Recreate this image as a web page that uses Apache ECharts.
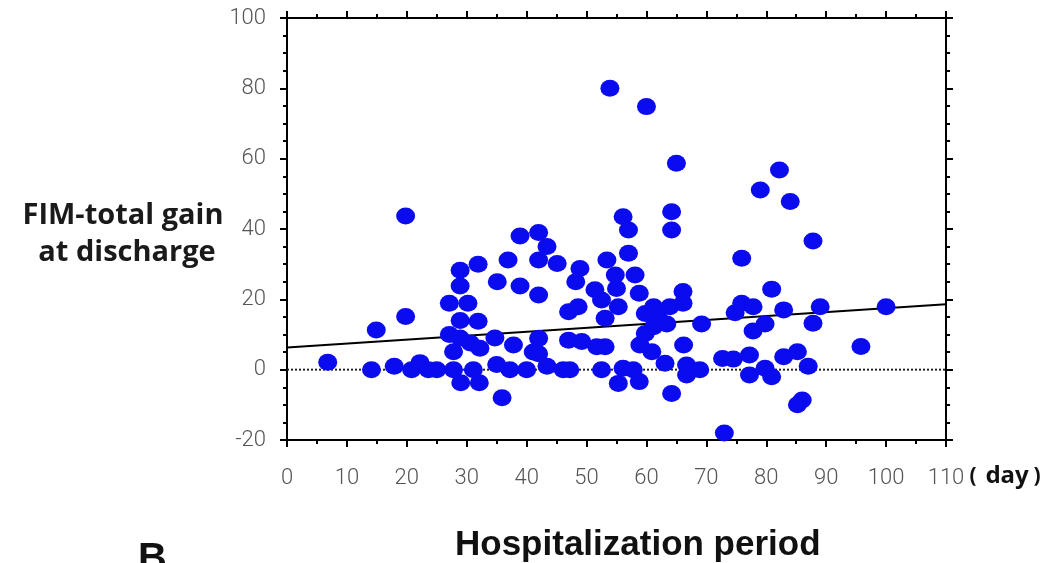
<!DOCTYPE html>
<html>
<head>
<meta charset="utf-8">
<script src="https://cdn.jsdelivr.net/npm/echarts@6/dist/echarts.min.js"></script>
<style>
html,body{margin:0;padding:0;background:#fff;}
#chart{width:1048px;height:563px;}
</style>
</head>
<body>
<div id="chart"></div>
<script>
// Hospitalization period (day) of each patient
const days = [
  6.8, 14.1, 14.9, 17.9, 20.8, 19.8, 19.8, 22.2, 23.6, 25.0,
  27.1, 27.1, 27.8, 27.8, 28.9, 28.9, 28.9, 28.9, 29.0, 30.2,
  30.6, 31.1, 31.9, 31.9, 32.1, 32.2, 34.7, 35.0, 35.1, 35.9,
  36.9, 37.2, 37.8, 38.9, 38.9, 40.0, 41.1, 42.0, 42.0, 42.0,
  42.0, 42.0, 43.4, 43.4, 45.1, 46.1, 47.0, 47.0, 47.2, 48.2,
  48.6, 48.9, 49.2, 51.4, 51.7, 52.5, 52.5, 53.1, 53.1, 53.4,
  53.9, 54.8, 55.0, 55.3, 55.3, 56.1, 56.1, 57.0, 57.0, 57.8,
  58.1, 58.8, 58.8, 58.9, 59.8, 59.8, 60.0, 60.9, 61.2, 61.2,
  62.0, 63.1, 63.4, 63.9, 64.2, 64.2, 64.2, 65.0, 66.1, 66.1,
  66.2, 66.7, 66.7, 68.9, 69.2, 72.7, 73.0, 74.5, 74.8, 75.9,
  75.9, 77.2, 77.2, 77.8, 77.8, 79.0, 79.8, 79.8, 80.9, 80.9,
  82.2, 82.9, 82.9, 84.0, 85.2, 85.2, 86.0, 87.0, 87.8, 87.8,
  89.0, 95.8, 100.0
];
// FIM-total gain at discharge of each patient
const gains = [
  2.1, 0.0, 11.3, 1.0, 0.0, 43.7, 15.1, 2.0, 0.0, 0.0,
  18.9, 10.0, 5.1, 0.0, 28.3, 23.8, 14.0, 9.0, -3.7, 18.9,
  7.6, 0.0, 30.0, 13.8, -3.7, 6.1, 9.0, 1.5, 25.0, -8.0,
  31.2, 0.0, 7.0, 38.0, 23.8, 0.0, 5.0, 39.0, 31.2, 21.2,
  8.9, 4.5, 35.0, 1.0, 30.2, 0.0, 16.5, 8.4, 0.0, 25.0,
  17.9, 28.8, 8.0, 22.7, 6.5, 19.8, 0.0, 14.6, 6.5, 31.2,
  80.0, 26.9, 23.1, 17.9, -3.9, 43.5, 0.4, 39.7, 33.1, 0.0,
  26.9, 21.7, -3.4, 7.0, 16.0, 10.3, 74.8, 5.1, 17.9, 12.2,
  14.6, 1.8, 13.0, 17.9, 44.9, 39.7, -6.8, 58.7, 22.2, 18.9,
  7.0, 1.3, -1.5, 0.0, 13.0, 3.2, -18.0, 3.0, 16.2, 31.7,
  18.9, 4.2, -1.5, 17.9, 11.0, 51.1, 13.0, 0.4, 22.9, -2.0,
  56.8, 17.0, 3.7, 47.8, 5.1, -10.0, -8.6, 1.0, 36.6, 13.2,
  17.9, 6.6, 17.9
];
// Regression line end points (day, gain)
const fitDays = [0, 110];
const fitGains = [6.3, 18.6];
// Reference line at zero gain
const zeroDays = [0, 110];
const zeroGains = [0, 0];
// Tick settings
const xMin = 0, xMax = 110, xStep = 10;
const yMin = -20, yMax = 100, yStep = 20;

const points = days.map((d, i) => [d, gains[i]]);
const fitData = fitDays.map((d, i) => [d, fitGains[i]]);
const zeroData = zeroDays.map((d, i) => [d, zeroGains[i]]);

const labelFont = {
  color: '#555555',
  fontFamily: 'Roboto, "Liberation Sans", sans-serif',
  fontWeight: 300,
  fontSize: 22
};
const axisLine = { show: true, onZero: false, lineStyle: { color: '#000', width: 2 } };
const tickStyle = { color: '#000', width: 2 };
const titleFont = 'bold 29px "Open Sans", "Liberation Sans", Arial, sans-serif';
const unitFont = 'bold 21px "Noto Sans", "Liberation Sans", sans-serif';

const chart = echarts.init(document.getElementById('chart'), null, { renderer: 'canvas' });
chart.setOption({
  animation: false,
  backgroundColor: '#ffffff',
  grid: { left: 287, top: 18, right: 102, bottom: 123, containLabel: false },
  xAxis: [
    {
      type: 'value', min: xMin, max: xMax, interval: xStep, position: 'bottom',
      axisLine: axisLine,
      axisTick: { show: true, inside: false, length: 7, lineStyle: tickStyle },
      minorTick: { show: true, splitNumber: 2, length: 4, lineStyle: tickStyle },
      splitLine: { show: false },
      axisLabel: Object.assign({ margin: 27 }, labelFont)
    },
    {
      type: 'value', min: xMin, max: xMax, interval: xStep, position: 'top',
      axisLine: axisLine,
      axisTick: { show: true, inside: false, length: 7, lineStyle: tickStyle },
      minorTick: { show: true, splitNumber: 2, length: 4, lineStyle: tickStyle },
      splitLine: { show: false },
      axisLabel: { show: false }
    }
  ],
  yAxis: [
    {
      type: 'value', min: yMin, max: yMax, interval: yStep, position: 'left',
      axisLine: axisLine,
      axisTick: { show: true, inside: false, length: 7, lineStyle: tickStyle },
      minorTick: { show: true, splitNumber: 4, length: 4, lineStyle: tickStyle },
      splitLine: { show: false },
      axisLabel: Object.assign({ margin: 21 }, labelFont)
    },
    {
      type: 'value', min: yMin, max: yMax, interval: yStep, position: 'right',
      axisLine: axisLine,
      axisTick: { show: true, inside: false, length: 7, lineStyle: tickStyle },
      minorTick: { show: true, splitNumber: 4, length: 4, lineStyle: tickStyle },
      splitLine: { show: false },
      axisLabel: { show: false }
    }
  ],
  series: [
    {
      type: 'line', data: zeroData, xAxisIndex: 0, yAxisIndex: 0, symbol: 'none', z: 1,
      lineStyle: { color: '#222', width: 2, type: [2, 2] }
    },
    {
      type: 'line', data: fitData, xAxisIndex: 0, yAxisIndex: 0, symbol: 'none', z: 1,
      lineStyle: { color: '#000', width: 2 }
    },
    {
      type: 'scatter', data: points, xAxisIndex: 0, yAxisIndex: 0, z: 3,
      symbol: 'circle', symbolSize: [19, 17],
      itemStyle: { color: '#0b0bef', opacity: 1 }
    }
  ],
  graphic: [
    {
      type: 'text', x: 123, y: 216,
      style: { text: 'FIM-total gain', fill: '#1a1a1a', font: titleFont, align: 'center', verticalAlign: 'middle' }
    },
    {
      type: 'text', x: 127, y: 253,
      style: { text: 'at discharge', fill: '#1a1a1a', font: titleFont, align: 'center', verticalAlign: 'middle' }
    },
    {
      type: 'text', x: 973, y: 476,
      style: { text: '(', fill: '#111', font: unitFont, align: 'center', verticalAlign: 'middle' }
    },
    {
      type: 'text', x: 1007, y: 476,
      style: { text: 'day', fill: '#111', font: 'bold 24px "Noto Sans", "Liberation Sans", sans-serif', align: 'center', verticalAlign: 'middle' }
    },
    {
      type: 'text', x: 1037, y: 476,
      style: { text: ')', fill: '#111', font: unitFont, align: 'center', verticalAlign: 'middle' }
    },
    {
      type: 'text', left: 455, top: 528,
      style: { text: 'Hospitalization period', fill: '#111', font: 'bold 35px "Liberation Sans", Arial, sans-serif' }
    },
    {
      type: 'text', left: 138, top: 540,
      style: { text: 'B', fill: '#111', font: 'bold 40px "Liberation Sans", Arial, sans-serif' }
    },
    {
      type: 'text', left: -7, top: 478,
      style: { text: ')', fill: '#333', font: '22px "Liberation Sans", Arial, sans-serif' }
    }
  ]
});
</script>
</body>
</html>
